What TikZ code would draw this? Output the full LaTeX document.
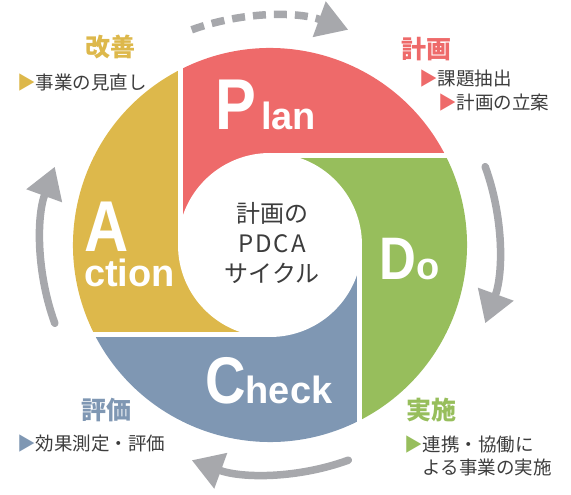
\documentclass[tikz,border=0pt]{standalone}
\usepackage{fontspec}
\setmainfont{Noto Sans CJK JP}
\newfontfamily\capfont[FakeStretch=0.85]{Liberation Sans}
\newfontfamily\lowfont{Liberation Sans}
\usetikzlibrary{arrows.meta,positioning}

\definecolor{planred}{HTML}{EE6A6A}
\definecolor{dogreen}{HTML}{97BE5C}
\definecolor{checkblue}{HTML}{7F97B3}
\definecolor{actgold}{HTML}{DDB84B}
\definecolor{arrowgray}{HTML}{A7A8AC}
\definecolor{textgray}{HTML}{3C3C3C}

% big initial + smaller rest of the word
\newcommand{\bigletter}[2]{{\capfont\fontsize{#1}{#1}\selectfont #2}}
\newcommand{\smallword}[1]{{\lowfont\fontsize{38}{38}\selectfont #1}}

\begin{document}
\begin{tikzpicture}[x=1pt, y=1pt]
    % Define styles
    \tikzstyle{ringgap} = [draw=white, line width=5pt]
    \tikzstyle{cyclearrow} = [draw=arrowgray, line width=7.5pt, line cap=round, -{Triangle[length=31pt, width=36pt]}]
    \tikzstyle{phase} = [inner sep=0pt, font=\fontsize{25}{25}\selectfont\bfseries]
    \tikzstyle{note} = [inner sep=0pt, anchor=west, align=left, text=textgray, font=\fontsize{18.5}{23}\selectfont]
    \tikzstyle{letter} = [inner sep=0pt, anchor=base west, text=white, font=\bfseries]

    \useasboundingbox (0,0) rectangle (571,495);
    \coordinate (c) at (270,250);
    \def\r{89.5}
    \def\R{197}
    \pgfmathsetmacro{\ta}{180-acos(\r/\R)}

    % Four quarters of the ring
    \foreach \col/\ang in {planred/0, dogreen/-90, checkblue/-180, actgold/90}
        \fill[\col, shift={(c)}, rotate=\ang] (-\r,0) -- (\ta:\R) arc[start angle=\ta, end angle=\ta-90, radius=\R] -- (0,\r) -- (0,0) -- cycle;

    % White gaps between the quarters
    \foreach \ang in {0, -90, -180, 90}
        \draw[ringgap, shift={(c)}, rotate=\ang] (-\r,0) -- (-\r,215);

    % Hole in the middle
    \fill[white] (c) circle[radius=92];
    \node[align=center, text=textgray, font=\fontsize{24}{30}\selectfont] (pdca) at (272,252) {計画の\\{\addfontfeature{LetterSpace=8}PDCA}\\サイクル};

    % Phase words
    \node[letter] (plan) at (215,365) {\bigletter{72}{P}\hspace{5pt}\smallword{lan}};
    \node[letter] (do) at (379,215) {\bigletter{60}{D}\smallword{o}};
    \node[letter] (check) at (205,91) {\bigletter{66}{C}\smallword{heck}};
    \node[letter, align=left, font=\bfseries\fontsize{38}{35}\selectfont] (act) at (84,208) {\bigletter{72}{A}\\\smallword{ction}};

    % Labels round the ring
    \node[phase, text=actgold] (kaizen) at (110,448) {改善};
    \node[note] (kaizen1) at (17,412) {{\color{actgold}▶}事業の見直し};
    \node[phase, text=planred] (keikaku) at (426,446) {計画};
    \node[note] (keikaku1) at (419,416) {{\color{planred}▶}課題抽出};
    \node[note] (keikaku2) at (438,392) {{\color{planred}▶}計画の立案};
    \node[phase, text=checkblue] (hyouka) at (106,85) {評価};
    \node[note] (hyouka1) at (17,51) {{\color{checkblue}▶}効果測定・評価};
    \node[phase, text=dogreen] (jisshi) at (431,85) {実施};
    \node[note] (jisshi1) at (404,38.5) {{\color{dogreen}▶}連携・協働に\\\phantom{▶}よる事業の実施};

    % Cycle arrows
    \foreach \a in {20, -70, 200}
        \draw[cyclearrow] ([shift={(c)}]\a:229) arc[start angle=\a, delta angle=-40, radius=229];
    \draw[cyclearrow, line cap=butt, dash pattern=on 13pt off 8pt] ([shift={(c)}]110:229) arc[start angle=110, delta angle=-40, radius=229];
\end{tikzpicture}
\end{document}
